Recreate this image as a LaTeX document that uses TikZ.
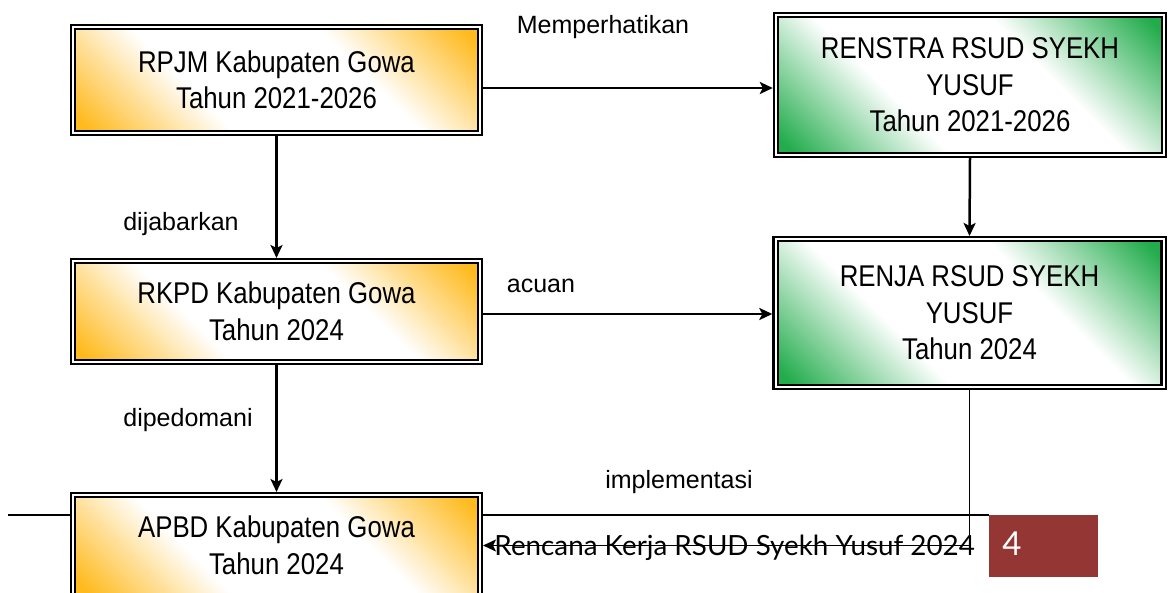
\documentclass[tikz,border=0pt]{standalone}
\usepackage{fontspec}
\setmainfont{Liberation Sans}
\newfontfamily\boxfont[FakeStretch=0.86]{Liberation Sans}
\newfontfamily\footfont{Lato}
\usetikzlibrary{arrows.meta}
\definecolor{ora}{RGB}{255,186,30}
\definecolor{grn}{RGB}{34,172,76}
\definecolor{pagered}{RGB}{148,54,52}
\pgfdeclareverticalshading{orashade}{100bp}{color(0bp)=(ora); color(17bp)=(ora); color(37bp)=(white); color(63bp)=(white); color(83bp)=(ora); color(100bp)=(ora)}
\pgfdeclareverticalshading{grnshade}{100bp}{color(0bp)=(grn); color(17bp)=(grn); color(38bp)=(white); color(62bp)=(white); color(83bp)=(grn); color(100bp)=(grn)}
\begin{document}
\begin{tikzpicture}[x=1pt,y=-1pt,
  frame/.style={draw=black, double=white, double distance=2pt, line width=2.2pt,
    outer sep=3.2pt, inner sep=0pt, align=center,
    font=\boxfont\fontsize{30}{36.5}\selectfont},
  orabox/.style={frame, shading=orashade, shading angle=-45, minimum width=406.6pt},
  grnbox/.style={frame, shading=grnshade, shading angle=-45, minimum width=388pt},
  conn/.style={line width=2.5pt, -{Stealth[length=13pt,width=12pt,inset=3pt]}},
  lbl/.style={font=\fontsize{25}{30}\selectfont, inner sep=0pt},
  foot/.style={font=\footfont\fontsize{27.8}{32}\selectfont, inner sep=0pt}
]
\useasboundingbox (0,0) rectangle (1170,592);
\clip (0,0) rectangle (1170,592);
\fill[white] (0,0) rectangle (1170,592);

% footer rule and page number
\draw[line width=1.8pt] (8,515) -- (989,515);
\fill[pagered] (989,515) rectangle (1098,577);
\node[foot, text=white, font=\footfont\fontsize{33}{36}\selectfont] (pg) at (1012,544) {4};

% boxes
\node[orabox, minimum height=105.6pt] (b1) at (276.5,80) {RPJM Kabupaten Gowa\\Tahun 2021-2026};
\node[orabox, minimum height=100.6pt] (b2) at (276.5,311.5) {RKPD Kabupaten Gowa\\Tahun 2024};
\node[orabox, minimum height=100.6pt] (b3) at (276.5,545.5) {APBD Kabupaten Gowa\\Tahun 2024};
\node[grnbox, minimum height=139.6pt] (g1) at (970,85) {RENSTRA RSUD SYEKH\\YUSUF\\Tahun 2021-2026};
\node[grnbox, minimum height=147.6pt] (g2) at (969.5,313) {RENJA RSUD SYEKH\\YUSUF\\Tahun 2024};

% footer text
\node[foot, anchor=base east] (ft) at (975,555) {Rencana Kerja RSUD Syekh Yusuf 2024};

% connectors
\coordinate (r1) at (0,88);
\draw[conn] (b1.east |- r1) -- (g1.west |- r1);
\draw[conn] (b1.south) -- (b2.north);
\draw[conn] (b2.east |- 0,314) -- (g2.west |- 0,314);
\draw[conn] (g1.south) -- (g2.north);
\draw[conn] (b2.south) -- (b3.north);
\draw[conn, line width=1.7pt] (g2.south) -- (g2.south |- b3.east) -- (b3.east);

% labels
\node[lbl] (l1) at (603,27) {Memperhatikan};
\node[lbl] (l2) at (181,224) {dijabarkan};
\node[lbl] (l3) at (541,286) {acuan};
\node[lbl] (l4) at (188,420) {dipedomani};
\node[lbl] (l5) at (679,482) {implementasi};
\end{tikzpicture}
\end{document}
